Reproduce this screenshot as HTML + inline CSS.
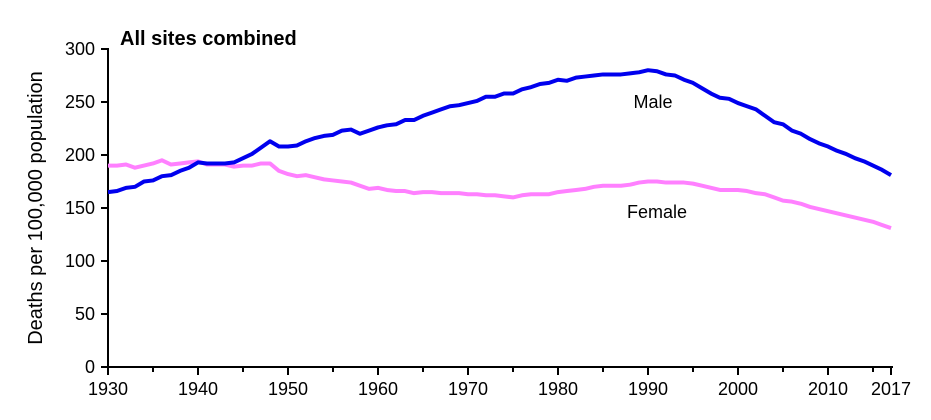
<!DOCTYPE html>
<html><head><meta charset="utf-8"><style>
body{margin:0;background:#fff;}
svg{display:block;font-family:"Liberation Sans",Arial,sans-serif;}
</style></head><body>
<svg id="c" width="931" height="420">
<text x="120" y="45" font-size="20" font-weight="bold" fill="#000">All sites combined</text>
<text transform="translate(42,208) rotate(-90)" text-anchor="middle" font-size="20" fill="#000">Deaths per 100,000 population</text>
<g id="axes"></g>
<g id="series"></g>
<text x="653" y="108" text-anchor="middle" font-size="18">Male</text>
<text x="657" y="218" text-anchor="middle" font-size="18">Female</text>
</svg>
<script>
const years=[];for(let y=1930;y<=2017;y++)years.push(y);
const male=[165,166,169,170,175,176,180,181,185,188,193,192,192,192,193,197,201,207,213,208,208,209,213,216,218,219,223,224,220,223,226,228,229,233,233,237,240,243,246,247,249,251,255,255,258,258,262,264,267,268,271,270,273,274,275,276,276,276,277,278,280,279,276,275,271,268,263,258,254,253,249,246,243,237,231,229,223,220,215,211,208,204,201,197,194,190,186,181];
const female=[190,190,191,188,190,192,195,191,192,193,194,191,191,191,189,190,190,192,192,185,182,180,181,179,177,176,175,174,171,168,169,167,166,166,164,165,165,164,164,164,163,163,162,162,161,160,162,163,163,163,165,166,167,168,170,171,171,171,172,174,175,175,174,174,174,173,171,169,167,167,167,166,164,163,160,157,156,154,151,149,147,145,143,141,139,137,134,131];
const yTicks=[0,50,100,150,200,250,300];
const xTicks=[1930,1940,1950,1960,1970,1980,1990,2000,2010,2017];
const NS="http://www.w3.org/2000/svg";
const X=y=>108+(y-1930)*9;
const Y=v=>367-v*1.06;
const ax=document.getElementById('axes');
function mk(t,a,p){const e=document.createElementNS(NS,t);for(const k in a)e.setAttribute(k,a[k]);p.appendChild(e);return e;}
let l=mk('line',{x1:108,y1:367,x2:893,y2:367,stroke:'#000','stroke-width':2},ax);


l=mk('line',{x1:108,y1:Y(300)-1,x2:108,y2:368,stroke:'#000','stroke-width':2},ax);


yTicks.forEach(v=>{
 const t=mk('line',{x1:101,y1:Y(v),x2:108,y2:Y(v),stroke:'#000','stroke-width':2},ax);
 
 
 const tx=mk('text',{x:95,y:Y(v)+6,'text-anchor':'end','font-size':18},ax);tx.textContent=v;
 
 
});
for(let y=1935;y<2017;y+=10){
 const t=mk('line',{x1:X(y),y1:367,x2:X(y),y2:372,stroke:'#000','stroke-width':2},ax);
 
 
}
xTicks.forEach(y=>{
 const t=mk('line',{x1:X(y),y1:367,x2:X(y),y2:375,stroke:'#000','stroke-width':2},ax);
 
 
 const tx=mk('text',{x:X(y),y:395,'text-anchor':'middle','font-size':18},ax);tx.textContent=y;
 
 
});
const sg=document.getElementById('series');
function line(d,c,n){
 const p=mk('polyline',{points:d.map((v,i)=>X(years[i])+','+Y(v)).join(' '),fill:'none',stroke:c,'stroke-width':4,'stroke-linejoin':'round'},sg);
 
 
}
line(female,'#ff80ff','female-line');
line(male,'#0000ee','male-line');
</script>
</body></html>
